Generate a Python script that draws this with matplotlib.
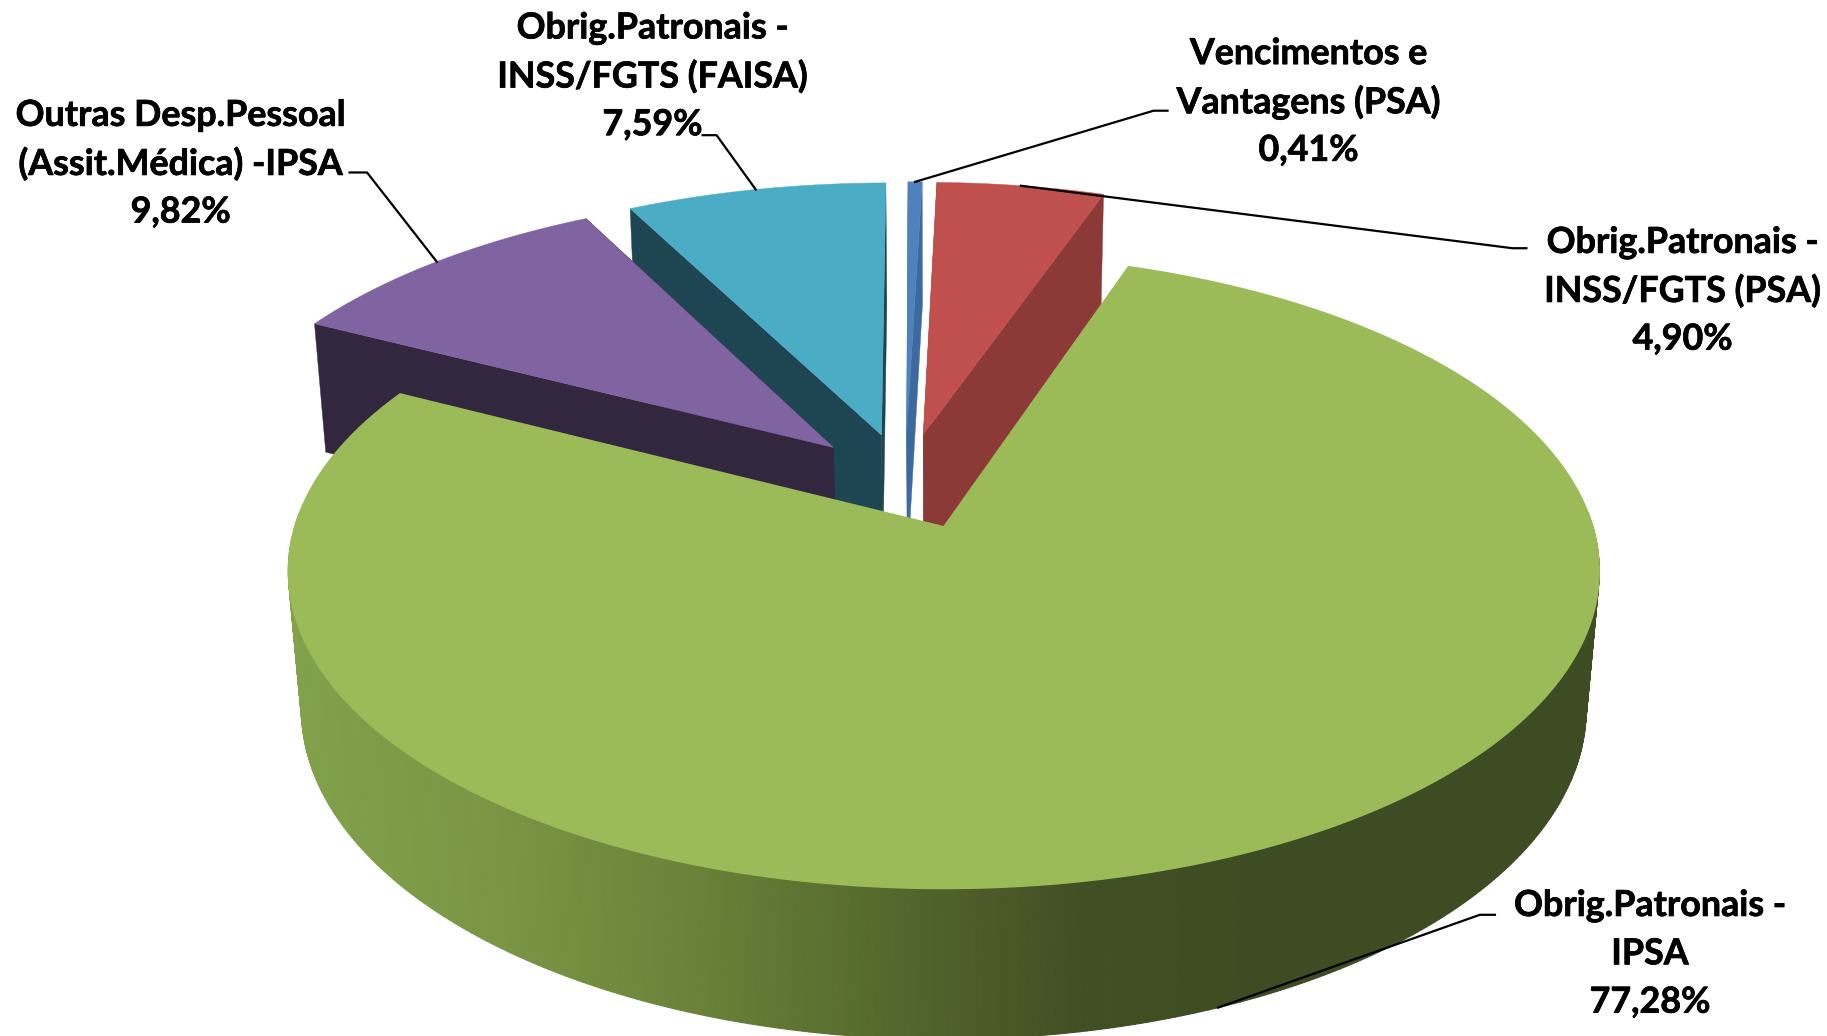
#!/usr/bin/env python3
"""Exploded 3D pie of personnel costs, drawn by projecting each wedge by hand."""
import numpy as np
import matplotlib
matplotlib.use('Agg')
import matplotlib.pyplot as plt
import matplotlib.patheffects as pe
from matplotlib.collections import PolyCollection
from matplotlib.colors import LinearSegmentedColormap

# data, clockwise from 12 o'clock
names = ['Vencimentos e\nVantagens (PSA)', 'Obrig.Patronais -\nINSS/FGTS (PSA)', 'Obrig.Patronais -\nIPSA',
         'Outras Desp.Pessoal\n(Assit.Médica) -IPSA', 'Obrig.Patronais -\nINSS/FGTS (FAISA)']
values = [0.41, 4.90, 77.28, 9.82, 7.59]
value_labels = ['0,41%', '4,90%', '77,28%', '9,82%', '7,59%']

top_colors = ['#4F81BD', '#C0504D', '#9BBB59', '#8064A2', '#4BACC6']
wall_colors = ['#3D6A9E', '#8C3A38', '#5E7135', '#33273F', '#1E4552']

# projection, in units of the 1568 wide preview
CX, CY = 810, 452        # green wedge apex
RX, RY = 557, 267
K = 0.14                 # foreshortening towards the back
Q, H = 0.02, 120         # shrink and drop of the bottom face
EXPLODE = 0.162
START = -0.316           # deg clockwise from north

W, HT = 1568, 889


def project(x, y, bottom=False):
    den = 1 + K * y + (Q if bottom else 0)
    return CX + RX * x / den, CY + (-RY * y + (H if bottom else 0)) / den


fig = plt.figure(figsize=(18.27, 10.36), dpi=100)
ax = fig.add_axes([0, 0, 1, 1])
ax.set_xlim(0, W)
ax.set_ylim(HT, 0)
ax.axis('off')

edges = START + np.cumsum([0] + values) * 3.6
mids = (edges[:-1] + edges[1:]) / 2
green = 2
gdir = np.array([np.sin(np.radians(mids[green])), np.cos(np.radians(mids[green]))])

apexes = []
for m in mids:
    d = np.array([np.sin(np.radians(m)), np.cos(np.radians(m))])
    apexes.append(EXPLODE * (d - gdir))


def arc(i, a0=None, a1=None, n=300):
    a0 = edges[i] if a0 is None else a0
    a1 = edges[i + 1] if a1 is None else a1
    t = np.radians(np.linspace(a0, a1, n))
    return apexes[i][0] + np.sin(t), apexes[i][1] + np.cos(t)


def draw_wedge(i):
    # radial walls first, then the top face
    ax0, ay0 = apexes[i]
    ox, oy = arc(i)
    for ex, ey in [(ox[0], oy[0]), (ox[-1], oy[-1])]:
        pts = [project(ax0, ay0), project(ex, ey), project(ex, ey, True), project(ax0, ay0, True)]
        ax.fill(*zip(*pts), color=wall_colors[i], lw=0.3, zorder=i_order[i])
    px, py = project(np.r_[ax0, ox], np.r_[ay0, oy])
    ax.fill(px, py, color=top_colors[i], lw=0.3, zorder=i_order[i] + 0.5)


i_order = {0: 2, 1: 1, 3: 4, 4: 3, 2: 6}
for i in [1, 0, 4, 3]:
    draw_wedge(i)

# green outer wall with its left to right shading, front part only
shade = LinearSegmentedColormap.from_list('shade', ['#82A14B', '#7A9645', '#6B8339', '#55692E', '#414F24', '#3E4C23'])
ox, oy = arc(green, n=500)
tx, ty = project(ox, oy)
bx, by = project(ox, oy, True)
front = [j for j in range(len(tx) - 1) if oy[j] < 0.05 and oy[j + 1] < 0.05]
strips = [[(tx[j], ty[j]), (tx[j + 1], ty[j + 1]), (bx[j + 1], by[j + 1]), (bx[j], by[j])] for j in front]
strip_cols = [shade(np.clip((tx[j] - 250) / 850, 0, 1)) for j in front]
ax.add_collection(PolyCollection(strips, facecolors=strip_cols, edgecolors=strip_cols, linewidths=0.8, zorder=5))
px, py = project(np.r_[apexes[green][0], ox], np.r_[apexes[green][1], oy])
ax.fill(px, py, color=top_colors[green], lw=1.0, zorder=6.5)

# label placement: centre x, first line centre y, text-side elbow
placement = {
    0: (1123, 46, (1002, 95), (990, 95)),
    1: (1444, 208, (1310, 213), (1298, 213)),
    2: (1416, 777, (1283, 785), (1270, 785)),
    3: (155, 99, (300, 148), (315, 148)),
    4: (560, 24, (603, 116), (615, 116)),
}
LINE_H = 41.5
thicker = [pe.withStroke(linewidth=0.5, foreground='black')]
for i, (xc, y0, p0, p1) in placement.items():
    lines = names[i].split('\n') + [value_labels[i]]
    for n, line in enumerate(lines):
        ax.text(xc, y0 + n * LINE_H, line, ha='center', va='center', fontsize=25.8,
                fontweight='bold', family='Lato', color='black', zorder=10, path_effects=thicker)
    ox, oy = arc(i, mids[i], mids[i], n=1)
    end = project(ox[0], oy[0], bottom=(i == green))
    ax.plot([p0[0], p1[0], end[0]], [p0[1], p1[1], end[1]], color='black', lw=1.6, zorder=9)

fig.savefig('out.png', dpi=100, facecolor='white')
